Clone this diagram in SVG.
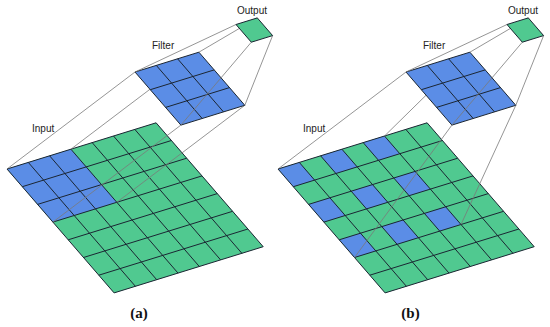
<svg xmlns="http://www.w3.org/2000/svg" width="550" height="327" viewBox="0 0 550 327">
<style>
.g{fill:#50c990}
.b{fill:#5b8de6}
.grid{fill:none;stroke:#1b2633;stroke-width:1;vector-effect:non-scaling-stroke}
.con{stroke:#7a7a7a;stroke-width:0.8;fill:none}
.lbl{font-family:"Liberation Sans",Arial,sans-serif;font-size:10px;fill:#222}
.cap{font-family:"Liberation Serif","Times New Roman",serif;font-size:15px;font-weight:bold;fill:#111;text-anchor:middle}
</style>
<rect width="550" height="327" fill="#fff"/>
<!-- Panel (a) -->
<g id="input-a" transform="matrix(21.3 -6.6 15.3 17.7 7 169)">
<rect class="g" width="7" height="7"/>
<rect class="b" width="3" height="3"/>
<path class="grid" d="M0 0V7M1 0V7M2 0V7M3 0V7M4 0V7M5 0V7M6 0V7M7 0V7M0 0H7M0 1H7M0 2H7M0 3H7M0 4H7M0 5H7M0 6H7M0 7H7"/>
</g>
<g id="connectors-a1" class="con">
<line x1="7" y1="169" x2="135" y2="72"/>
<line x1="70.9" y1="149.2" x2="198.9" y2="52.2"/>
<line x1="116.8" y1="202.3" x2="244.8" y2="105.3"/>
<line x1="52.9" y1="222.1" x2="180.9" y2="125.1"/>
</g>
<g id="filter-a" transform="matrix(21.3 -6.6 15.3 17.7 135 72)">
<rect class="b" width="3" height="3"/>
<path class="grid" d="M0 0V3M1 0V3M2 0V3M3 0V3M0 0H3M0 1H3M0 2H3M0 3H3"/>
</g>
<g id="connectors-a2" class="con">
<line x1="135" y1="72" x2="236" y2="24.5"/>
<line x1="198.9" y1="52.2" x2="257.3" y2="17.9"/>
<line x1="244.8" y1="105.3" x2="272.6" y2="35.6"/>
<line x1="180.9" y1="125.1" x2="251.3" y2="42.2"/>
</g>
<g id="output-a" transform="matrix(21.3 -6.6 15.3 17.7 236 24.5)">
<rect class="g" width="1" height="1"/>
<path class="grid" d="M0 0H1V1H0Z"/>
</g>
<g id="labels-a">
<text class="lbl" x="32" y="132">Input</text>
<text class="lbl" x="152" y="48.5">Filter</text>
<text class="lbl" x="237" y="13.5">Output</text>
<text class="cap" x="139" y="318">(a)</text>
</g>
<!-- Panel (b) -->
<g id="input-b" transform="matrix(21.3 -6.6 15.3 17.7 278 169)">
<rect class="g" width="7" height="7"/>
<rect class="b" x="0" y="0" width="1" height="1"/>
<rect class="b" x="2" y="0" width="1" height="1"/>
<rect class="b" x="4" y="0" width="1" height="1"/>
<rect class="b" x="0" y="2" width="1" height="1"/>
<rect class="b" x="2" y="2" width="1" height="1"/>
<rect class="b" x="4" y="2" width="1" height="1"/>
<rect class="b" x="0" y="4" width="1" height="1"/>
<rect class="b" x="2" y="4" width="1" height="1"/>
<rect class="b" x="4" y="4" width="1" height="1"/>
<path class="grid" d="M0 0V7M1 0V7M2 0V7M3 0V7M4 0V7M5 0V7M6 0V7M7 0V7M0 0H7M0 1H7M0 2H7M0 3H7M0 4H7M0 5H7M0 6H7M0 7H7"/>
</g>
<g id="connectors-b1" class="con">
<line x1="278" y1="169" x2="406" y2="72"/>
<line x1="384.5" y1="136" x2="469.9" y2="52.2"/>
<line x1="461" y1="224.5" x2="515.8" y2="105.3"/>
<line x1="354.5" y1="257.5" x2="451.9" y2="125.1"/>
</g>
<g id="filter-b" transform="matrix(21.3 -6.6 15.3 17.7 406 72)">
<rect class="b" width="3" height="3"/>
<path class="grid" d="M0 0V3M1 0V3M2 0V3M3 0V3M0 0H3M0 1H3M0 2H3M0 3H3"/>
</g>
<g id="connectors-b2" class="con">
<line x1="406" y1="72" x2="507" y2="24.5"/>
<line x1="469.9" y1="52.2" x2="528.3" y2="17.9"/>
<line x1="515.8" y1="105.3" x2="543.6" y2="35.6"/>
<line x1="451.9" y1="125.1" x2="522.3" y2="42.2"/>
</g>
<g id="output-b" transform="matrix(21.3 -6.6 15.3 17.7 507 24.5)">
<rect class="g" width="1" height="1"/>
<path class="grid" d="M0 0H1V1H0Z"/>
</g>
<g id="labels-b">
<text class="lbl" x="303" y="132">Input</text>
<text class="lbl" x="423" y="48.5">Filter</text>
<text class="lbl" x="508" y="13.5">Output</text>
<text class="cap" x="410.5" y="318">(b)</text>
</g>
</svg>
